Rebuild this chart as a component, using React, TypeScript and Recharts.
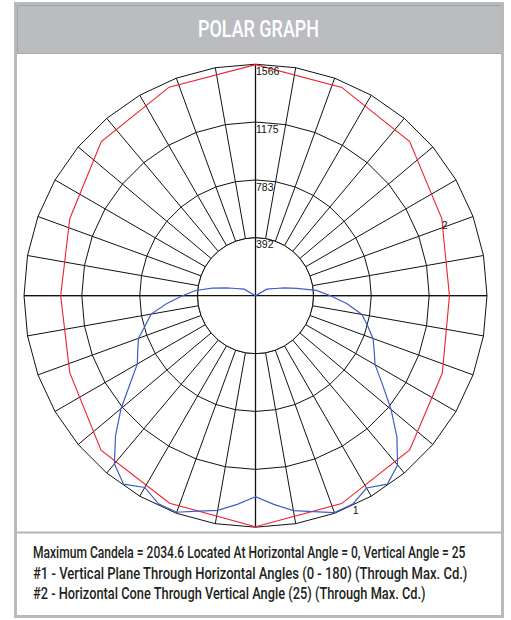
import React from 'react';
import { RadarChart, Radar, PolarGrid, PolarAngleAxis, PolarRadiusAxis } from 'recharts';

// ---- data ----
const spokeAngles = [0, 10, 20, 30, 40, 50, 60, 70, 80, 90, 100, 110, 120, 130, 140, 150, 160, 170,
  180, 190, 200, 210, 220, 230, 240, 250, 260, 270, 280, 290, 300, 310, 320, 330, 340, 350];
const ringTicks = [392, 783, 1175, 1566];
const axisCross = [0, 90, 180, 270];

// #1 vertical plane: angle measured from nadir, left half 0-180, right half 185-355
const blueAngles = [0, 5, 10, 15, 20, 25, 30, 35, 40, 45, 50, 55, 60, 65, 70, 75, 80, 85, 90, 95, 100,
  105, 110, 115, 120, 125, 130, 135, 140, 145, 150, 155, 160, 165, 170, 175, 180,
  185, 190, 195, 200, 205, 210, 215, 220, 225, 230, 235, 240, 245, 250, 255, 260, 265, 270, 275,
  280, 285, 290, 295, 300, 305, 310, 315, 320, 325, 330, 335, 340, 345, 350, 355];
const blueValues = [1360, 1417, 1475, 1509, 1559, 1553, 1498, 1556, 1485, 1339, 1187, 1035, 923, 879,
  842, 771, 717, 602, 494, 406, 298, 203, 142, 108, 88, 0, 0, 0, 0, 0, 0, 0, 0, 0, 0, 0, 0,
  0, 0, 0, 0, 0, 0, 0, 0, 0, 0, 0, 88, 108, 142, 203, 284, 413, 507, 622, 731, 785, 846, 886, 934,
  1049, 1197, 1353, 1495, 1556, 1502, 1556, 1561, 1512, 1476, 1417];

// #2 horizontal cone at vertical angle 25
const redAngles = [0, 22.5, 45, 67.5, 90, 112.5, 135, 157.5, 180, 202.5, 225, 247.5, 270, 292.5, 315, 337.5];
const redValues = [1563, 1519, 1478, 1360, 1318, 1360, 1475, 1527, 1563, 1525, 1475, 1364, 1312, 1368, 1475, 1522];

const titleText = 'POLAR GRAPH';
const footerLines = [
  'Maximum Candela = 2034.6 Located At Horizontal Angle = 0, Vertical Angle = 25',
  '#1 - Vertical Plane Through Horizontal Angles (0 - 180) (Through Max. Cd.)',
  '#2 - Horizontal Cone Through Vertical Angle (25) (Through Max. Cd.)',
];
const footerWidths = [433, 435, 393];

const coreData = spokeAngles.map((a) => ({ angle: a, core: ringTicks[0] }));
const blueData = blueAngles.map((a, i) => ({ angle: a, v: blueValues[i] }));
const redData = redAngles.map((a, i) => ({ angle: a, v: redValues[i] }));

// ---- layout ----
const W = 511;
const H = 620;
const chartProps = {
  width: W,
  height: H,
  cx: 255.5,
  cy: 295.7,
  outerRadius: 231.5,
  startAngle: -90,
  endAngle: -450,
  margin: { top: 0, right: 0, bottom: 0, left: 0 },
};
const textFont = "Roboto, 'Open Sans', sans-serif";
const numFont = "'Liberation Sans', Arial, sans-serif";

const layer: React.CSSProperties = { position: 'absolute', left: 0, top: 0, width: W, height: H };

let ctx: CanvasRenderingContext2D | null = null;
const measure = (text: string, size: number, weight: number) => {
  if (!ctx) ctx = document.createElement('canvas').getContext('2d');
  if (!ctx) return 1;
  ctx.font = `${weight} ${size}px Roboto, 'Open Sans', sans-serif`;
  return ctx.measureText(text).width || 1;
};

const FitText = ({ text, x, y, size, weight, width, fill, anchor }: any) => {
  const k = width / measure(text, size, weight);
  return (
    <g transform={`translate(${x},${y}) scale(${k},1)`}>
      <text x={0} y={0} fontSize={size} fontWeight={weight} fontFamily={textFont} fill={fill}
        textAnchor={anchor || 'start'}>{text}</text>
    </g>
  );
};

const RadiusTick = (p: any) => (
  <text x={p.x + 0.5} y={p.y + 10.6} fontSize={10.5} fontFamily={numFont} fill="#111" textAnchor="start">
    {p.payload.value}
  </text>
);

const makeLabelDot = (target: number, label: string) => (p: any) =>
  p.index === target ? (
    <text key={`lbl-${p.index}`} x={p.cx} y={p.cy + 10} fontSize={10.5} fontFamily={numFont} fill="#111">
      {label}
    </text>
  ) : (
    <g key={`d-${p.index}`} />
  );

export default function App() {
  return (
    <div style={{ position: 'absolute', left: 0, top: 0, width: W, height: H, background: '#fff' }}>
      <svg style={layer} width={W} height={H}>
        <rect x={0} y={0} width={W} height={H} fill="#fff" />
        <rect x={15.5} y={3.5} width={487} height={613} fill="none" stroke="#b9babc" strokeWidth={3} />
        <rect x={17} y={5} width={484} height={48.5} fill="#bbbcbf" />
        <line x1={17.5} y1={5} x2={17.5} y2={53.5} stroke="#a2a3a6" strokeWidth={1} />
        <line x1={17} y1={5.5} x2={501} y2={5.5} stroke="#a2a3a6" strokeWidth={1} />
        <line x1={17} y1={53.5} x2={501} y2={53.5} stroke="#a7a8ab" strokeWidth={1} />
        <line x1={17} y1={532.5} x2={501} y2={532.5} stroke="#b4b5b7" strokeWidth={2} />
        <FitText text={titleText} x={258.5} y={36.7} size={24.5} weight={500} width={121}
          fill="#ffffff" anchor="middle" />
        {footerLines.map((t, i) => (
          <FitText key={i} text={t} x={33} y={558.3 + i * 20.5} size={16.5} weight={500}
            width={footerWidths[i]} fill="#231f20" />
        ))}
      </svg>

      <div style={layer}>
        <RadarChart {...chartProps} data={coreData}>
          <PolarAngleAxis dataKey="angle" type="number" domain={[0, 360]} ticks={spokeAngles}
            tick={false} tickLine={false} axisLine={false} />
          <PolarRadiusAxis type="number" domain={[0, 1566]} ticks={ringTicks} allowDataOverflow
            tick={false} tickLine={false} axisLine={false} />
          <PolarGrid gridType="polygon" stroke="#111" strokeWidth={1} strokeOpacity={1} />
          <Radar dataKey="core" stroke="#111" strokeWidth={1} fill="#ffffff" fillOpacity={1}
            dot={false} isAnimationActive={false} />
        </RadarChart>
      </div>

      <div style={layer}>
        <RadarChart {...chartProps} data={redData}>
          <PolarAngleAxis dataKey="angle" type="number" domain={[0, 360]} ticks={spokeAngles}
            tick={false} tickLine={false} axisLine={false} />
          <PolarRadiusAxis type="number" domain={[0, 1566]} ticks={ringTicks} allowDataOverflow angle={90}
            tick={RadiusTick} tickLine={false} axisLine={false} />
          <PolarGrid gridType="polygon" polarAngles={axisCross} polarRadius={[]} stroke="#111"
            strokeWidth={1.3} strokeOpacity={1} />
          <Radar dataKey="v" stroke="#f0202a" strokeWidth={1.1} fill="none" fillOpacity={0}
            dot={makeLabelDot(11, '2')} isAnimationActive={false} />
        </RadarChart>
      </div>

      <div style={layer}>
        <RadarChart {...chartProps} data={blueData}>
          <PolarAngleAxis dataKey="angle" type="number" domain={[0, 360]} ticks={spokeAngles}
            tick={false} tickLine={false} axisLine={false} />
          <PolarRadiusAxis type="number" domain={[0, 1566]} ticks={ringTicks} allowDataOverflow
            tick={false} tickLine={false} axisLine={false} />
          <Radar dataKey="v" stroke="#3d5fc4" strokeWidth={1.2} fill="none" fillOpacity={0}
            dot={makeLabelDot(67, '1')} isAnimationActive={false} />
        </RadarChart>
      </div>
    </div>
  );
}
